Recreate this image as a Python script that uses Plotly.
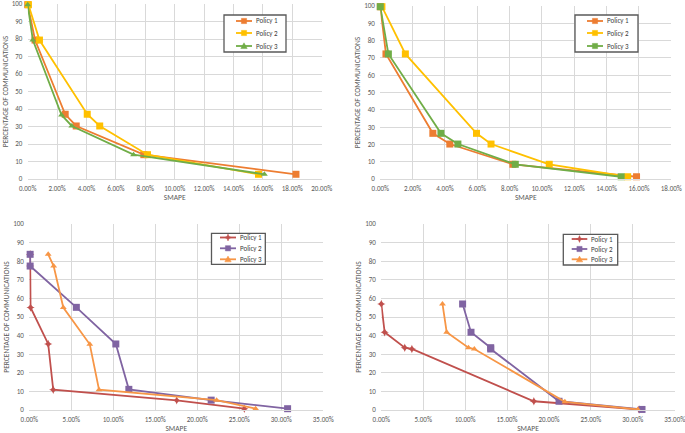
import plotly.graph_objects as go

# ---------------- data (SMAPE in %, y in % of communications) ----------------
policies = ["Policy 1", "Policy 2", "Policy 3"]

# Top-left panel
tl_p1_x = [0.0, 0.5, 2.55, 3.3, 7.9, 18.25]
tl_p1_y = [99.6, 79.4, 37.0, 30.3, 13.9, 2.7]
tl_p2_x = [0.05, 0.8, 4.05, 4.9, 8.15, 15.7]
tl_p2_y = [99.6, 79.4, 37.0, 30.3, 13.9, 2.7]
tl_p3_x = [0.0, 0.35, 2.3, 3.0, 7.2, 16.1]
tl_p3_y = [99.6, 79.4, 36.6, 30.3, 13.9, 2.7]

# Top-right panel
tr_p1_x = [0.0, 0.35, 3.25, 4.3, 8.2, 15.85]
tr_p1_y = [99.6, 72.3, 26.4, 20.2, 8.5, 1.3]
tr_p2_x = [0.1, 1.55, 5.95, 6.85, 10.45, 15.3]
tr_p2_y = [99.6, 72.3, 26.4, 20.2, 8.5, 1.3]
tr_p3_x = [0.0, 0.5, 3.75, 4.8, 8.35, 14.9]
tr_p3_y = [99.6, 72.3, 26.4, 20.2, 8.5, 1.3]

# Bottom-left panel
bl_p1_x = [0.1, 0.1, 0.15, 2.25, 2.85, 17.55, 25.6]
bl_p1_y = [83.7, 77.4, 55.1, 35.5, 10.9, 5.2, 0.7]
bl_p2_x = [0.1, 0.1, 5.6, 10.3, 11.85, 21.65, 30.75]
bl_p2_y = [83.7, 77.4, 55.2, 35.5, 11.1, 5.3, 0.7]
bl_p3_x = [2.25, 2.9, 4.05, 7.2, 8.3, 22.3, 26.95]
bl_p3_y = [83.7, 77.4, 55.1, 35.3, 10.9, 5.3, 0.7]

# Bottom-right panel
br_p1_x = [0.0, 0.4, 2.8, 3.65, 18.2, 30.75]
br_p1_y = [57.0, 41.8, 33.5, 32.8, 4.7, 0.3]
br_p2_x = [9.7, 10.7, 13.05, 13.05, 21.2, 31.1]
br_p2_y = [57.0, 41.8, 33.5, 32.8, 4.7, 0.3]
br_p3_x = [7.3, 7.8, 10.4, 11.1, 21.9, 30.6]
br_p3_y = [57.0, 41.8, 33.5, 32.8, 4.4, 0.3]

top_colors = ["#ED7D31", "#FFC000", "#70AD47"]
bot_colors = ["#C0504D", "#8064A2", "#F79646"]

x_title = "SMAPE"
y_title = "PERCENTAGE OF COMMUNICATIONS"

W, H = 685, 433


def fx(px):
    return px / W


def fy(py):
    return 1 - py / H


panels = [
    dict(xs=[tl_p1_x, tl_p2_x, tl_p3_x], ys=[tl_p1_y, tl_p2_y, tl_p3_y],
         colors=top_colors, symbols=["square", "square", "triangle-up"],
         xd=(27.7, 321.7), yd=(4, 179), xmax=0.20, dtick=0.02,
         box=(224, 15, 286, 52), line=(236, 252), tx=254, rows=(21, 33, 46)),
    dict(xs=[tr_p1_x, tr_p2_x, tr_p3_x], ys=[tr_p1_y, tr_p2_y, tr_p3_y],
         colors=top_colors, symbols=["square", "square", "square"],
         xd=(380.3, 671.3), yd=(6, 179), xmax=0.18, dtick=0.02,
         box=(575, 15, 638, 52), line=(587, 603), tx=605, rows=(21, 33, 46)),
    dict(xs=[bl_p1_x, bl_p2_x, bl_p3_x], ys=[bl_p1_y, bl_p2_y, bl_p3_y],
         colors=bot_colors, symbols=["star-diamond", "square", "triangle-up"],
         xd=(29.3, 323.3), yd=(224, 410), xmax=0.35, dtick=0.05,
         box=(211.5, 233.3, 265.3, 264.3), line=(220, 236), tx=237.5, rows=(237.5, 248.3, 259.3)),
    dict(xs=[br_p1_x, br_p2_x, br_p3_x], ys=[br_p1_y, br_p2_y, br_p3_y],
         colors=bot_colors, symbols=["star-diamond", "square", "triangle-up"],
         xd=(381.3, 674.7), yd=(224, 410), xmax=0.35, dtick=0.05,
         box=(563.3, 234.3, 617.7, 265), line=(571.7, 587.3), tx=589, rows=(239, 249, 259.3)),
]

fig = go.Figure()
layout = {}
shapes = []
annotations = []
font_fam = "Carlito, Lato, sans-serif"
grid = "#D9D9D9"
txt = "#595959"
clear = "rgba(0,0,0,0)"


def marker_path(sym, cx, cy):
    if sym == "square":
        r = 2.6
        pts = [(-r, -r), (r, -r), (r, r), (-r, r)]
    elif sym == "triangle-up":
        r = 3.2
        pts = [(0, -r), (r, r * 0.8), (-r, r * 0.8)]
    else:  # star-diamond
        r, a = 3.4, 1.0
        pts = [(0, -r), (a, -a), (r, 0), (a, a), (0, r), (-a, a), (-r, 0), (-a, -a)]
    return "M " + " L ".join(f"{fx(cx + dx):.5f},{fy(cy + dy):.5f}" for dx, dy in pts) + " Z"


for i, p in enumerate(panels):
    n = i + 1
    xa = "x" if n == 1 else f"x{n}"
    ya = "y" if n == 1 else f"y{n}"
    for k in range(3):
        sym = p["symbols"][k]
        fig.add_trace(go.Scatter(
            x=[v / 100 for v in p["xs"][k]], y=p["ys"][k],
            mode="lines+markers", name=policies[k], showlegend=False,
            cliponaxis=False,
            line=dict(color=p["colors"][k], width=1.8),
            marker=dict(symbol=sym, size=7 if sym == "square" else 6,
                        color=p["colors"][k]),
            xaxis=xa, yaxis=ya,
        ))
    layout["xaxis" if n == 1 else f"xaxis{n}"] = dict(
        domain=[fx(p["xd"][0]), fx(p["xd"][1])], anchor=ya, automargin=False,
        range=[0, p["xmax"]], dtick=p["dtick"], tick0=0, tickformat=".2%",
        showgrid=True, gridcolor=grid, gridwidth=1, zeroline=False,
        showline=True, linecolor=grid, linewidth=1,
        ticks="outside", ticklen=3, tickcolor=clear, ticklabeloverflow="allow",
        tickfont=dict(size=7, color=txt, family=font_fam),
        title=dict(text=x_title, font=dict(size=7.5, color=txt, family=font_fam), standoff=0),
    )
    layout["yaxis" if n == 1 else f"yaxis{n}"] = dict(
        domain=[fy(p["yd"][1]), fy(p["yd"][0])], anchor=xa, automargin=False,
        range=[0, 100], dtick=10, tick0=0,
        showgrid=True, gridcolor=grid, gridwidth=1, zeroline=False,
        showline=False, ticks="outside", ticklen=3, tickcolor=clear, ticklabeloverflow="allow",
        tickfont=dict(size=7, color=txt, family=font_fam),
        title=dict(text=y_title, font=dict(size=7.5, color=txt, family=font_fam), standoff=2),
    )
    # legend box
    bx0, by0, bx1, by1 = p["box"]
    shapes.append(dict(type="rect", xref="paper", yref="paper", layer="above",
                       x0=fx(bx0), x1=fx(bx1), y0=fy(by1), y1=fy(by0),
                       fillcolor="white", line=dict(color="#595959", width=1.3)))
    lx0, lx1 = p["line"]
    for k in range(3):
        ry = p["rows"][k]
        col = p["colors"][k]
        shapes.append(dict(type="line", xref="paper", yref="paper", layer="above",
                           x0=fx(lx0), x1=fx(lx1), y0=fy(ry), y1=fy(ry),
                           line=dict(color=col, width=1.8)))
        shapes.append(dict(type="path", xref="paper", yref="paper", layer="above",
                           path=marker_path(p["symbols"][k], (lx0 + lx1) / 2, ry),
                           fillcolor=col, line=dict(color=col, width=0.5)))
        annotations.append(dict(xref="paper", yref="paper", x=fx(p["tx"]), y=fy(ry),
                                xanchor="left", yanchor="middle", showarrow=False,
                                text=policies[k],
                                font=dict(size=7, color="#404040", family=font_fam)))

fig.update_layout(
    width=W, height=H, margin=dict(l=0, r=0, t=0, b=0),
    paper_bgcolor="white", plot_bgcolor="white",
    showlegend=False, shapes=shapes, annotations=annotations,
    **layout,
)

fig.write_html("out.html", config={"displayModeBar": False},
               post_script="document.body.style.margin='0';document.body.style.overflow='hidden';")
